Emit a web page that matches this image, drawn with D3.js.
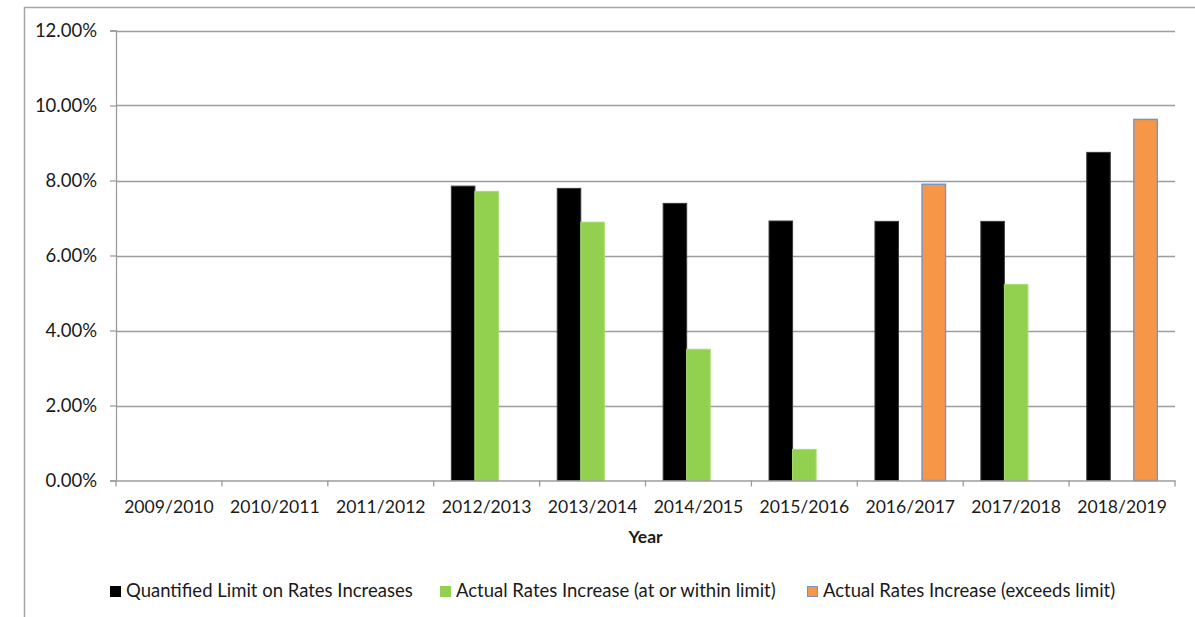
<!DOCTYPE html>
<html>
<head>
<meta charset="utf-8">
<script src="https://cdn.jsdelivr.net/npm/d3@7"></script>
<style>
  html, body { margin: 0; padding: 0; background: #fff; }
  svg { display: block; }
  text { font-family: Lato, "Open Sans", sans-serif; fill: #1a1a1a; }
</style>
</head>
<body>
<svg id="chart" width="1195" height="617"></svg>
<script>
// Financial years on the x axis
const years = ["2009/2010", "2010/2011", "2011/2012", "2012/2013", "2013/2014",
               "2014/2015", "2015/2016", "2016/2017", "2017/2018", "2018/2019"];

// Rates increase figures, in percent (null = no figure for that year)
const limitValues    = [null, null, null, 7.85, 7.79, 7.39, 6.92, 6.91, 6.91, 8.75];
const withinValues   = [null, null, null, 7.71, 6.89, 3.50, 0.83, null, 5.23, null];
const exceedsValues  = [null, null, null, null, null, null, null, 7.90, null, 9.63];

const yTicks = [0, 2, 4, 6, 8, 10, 12];

const seriesNames = ["Quantified Limit on Rates Increases",
                     "Actual Rates Increase (at or within limit)",
                     "Actual Rates Increase (exceeds limit)"];

const series = [
  { name: seriesNames[0], values: limitValues,   fill: "#000000", stroke: "#3a3a3a", sw: 1 },
  { name: seriesNames[1], values: withinValues,  fill: "#92d050", stroke: "#a8dc70", sw: 1 },
  { name: seriesNames[2], values: exceedsValues, fill: "#f79646", stroke: "#6f97cf", sw: 1.4 }
];

const svg = d3.select("#chart");
const margin = { left: 116, right: 1175, top: 30.5, bottom: 480.5 };

// outer chart frame (left and top edges)
svg.append("path")
  .attr("d", "M24.5,617 V7.5 H1195")
  .attr("fill", "none")
  .attr("stroke", "#a6a6a6")
  .attr("stroke-width", 1.5);

const x = d3.scaleBand().domain(years).range([margin.left, margin.right]).paddingInner(0).paddingOuter(0);
const y = d3.scaleLinear().domain([0, 12]).range([margin.bottom, margin.top]);

// three slots per year, with a gap around the group
const slot = d3.scaleBand().domain(d3.range(series.length))
  .range([0, x.bandwidth()]).paddingOuter(0.75).paddingInner(0);

// horizontal gridlines
svg.append("g")
  .selectAll("line")
  .data(yTicks.filter(d => d > 0))
  .join("line")
  .attr("x1", margin.left).attr("x2", margin.right)
  .attr("y1", d => Math.round(y(d)) + 0.5).attr("y2", d => Math.round(y(d)) + 0.5)
  .attr("stroke", "#9c9c9c").attr("stroke-width", 1.3);

// bars
series.forEach((s, i) => {
  svg.append("g")
    .selectAll("rect")
    .data(s.values.map((v, j) => ({ v, year: years[j] })).filter(d => d.v != null))
    .join("rect")
    .attr("x", d => x(d.year) + slot(i))
    .attr("width", slot.bandwidth())
    .attr("y", d => y(d.v))
    .attr("height", d => y(0) - y(d.v))
    .attr("fill", s.fill)
    .attr("stroke", s.stroke)
    .attr("stroke-width", s.sw);
});

// y axis
const yAxis = d3.axisLeft(y).tickValues(yTicks).tickSize(6).tickPadding(13)
  .tickFormat(d => d3.format(".2f")(d) + "%");
const gy = svg.append("g").attr("transform", `translate(${margin.left},0)`).call(yAxis);
gy.select(".domain").attr("stroke", "#9c9c9c").attr("stroke-width", 1.3);
gy.selectAll(".tick line").attr("stroke", "#9c9c9c").attr("stroke-width", 1.3);
gy.selectAll(".tick text").attr("font-size", 18.5).attr("fill", "#1a1a1a")
  .attr("font-family", "Lato, sans-serif");

// x axis
const xAxis = d3.axisBottom(x).tickSize(0).tickPadding(20);
const gx = svg.append("g").attr("transform", `translate(0,${margin.bottom})`).call(xAxis);
gx.select(".domain").attr("stroke", "#9c9c9c").attr("stroke-width", 1.3);
gx.selectAll(".tick text").attr("font-size", 17.6).attr("fill", "#1a1a1a")
  .attr("font-family", "Lato, sans-serif");
// category boundary ticks
gx.append("g").selectAll("line")
  .data(years.map(d => x(d)).concat([margin.right]))
  .join("line")
  .attr("x1", d => d).attr("x2", d => d)
  .attr("y1", 0).attr("y2", 6)
  .attr("stroke", "#9c9c9c").attr("stroke-width", 1.3);

// axis title
svg.append("text")
  .attr("x", (margin.left + margin.right) / 2)
  .attr("y", 543)
  .attr("text-anchor", "middle")
  .attr("font-size", 17.5)
  .attr("font-weight", "bold")
  .text("Year");

// legend
const legendX = [110, 440, 807];
const lg = svg.append("g").selectAll("g")
  .data(series)
  .join("g")
  .attr("transform", (d, i) => `translate(${legendX[i]},586)`);
lg.append("rect")
  .attr("x", 0.5).attr("y", 0.5).attr("width", 10).attr("height", 10)
  .attr("fill", d => d.fill)
  .attr("stroke", (d, i) => i === 2 ? d.stroke : d.fill);
lg.append("text")
  .attr("x", 16).attr("y", 10.5)
  .attr("font-size", 18.5)
  .text(d => d.name);
</script>
</body>
</html>
